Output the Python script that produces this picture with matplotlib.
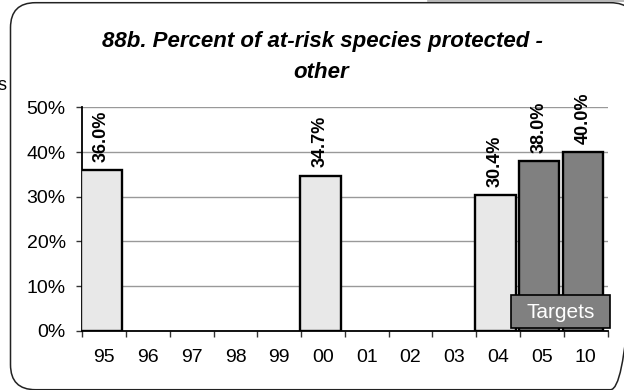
import matplotlib.pyplot as plt
import numpy as np
from matplotlib.patches import FancyBboxPatch, Rectangle

plt.rcParams['font.family'] = ['Liberation Sans', 'DejaVu Sans']

# category axis (fiscal years)
years = ['95', '96', '97', '98', '99', '00', '01', '02', '03', '04', '05', '10']

# actual results
actual_years = ['95', '00', '04']
actual_values = [36.0, 34.7, 30.4]

# targets
target_years = ['05', '10']
target_values = [38.0, 40.0]

title_lines = ['88b. Percent of at-risk species protected -', 'other']

fig = plt.figure(figsize=(6.24, 3.9), dpi=100)

# rounded frame around the chart, drawn in pixel space
bg = fig.add_axes([0, 0, 1, 1])
bg.set_xlim(0, 624)
bg.set_ylim(390, 0)
bg.axis('off')
bg.add_patch(FancyBboxPatch((10.5, 2.7), 625, 387, boxstyle='round,pad=0,rounding_size=25',
                            fc='none', ec='#222222', lw=1.1))
bg.plot([428, 624], [0.5, 0.5], color='#aaaaaa', lw=1.2)
fig.text(-0.004, 0.78, 's', fontsize=13, ha='left', va='center')

ax = fig.add_axes([0.1319, 0.152, 0.8417, 0.5728])

offset = -0.06
width = 0.92
x_act = np.array([years.index(y) for y in actual_years]) + offset
x_tgt = np.array([years.index(y) for y in target_years]) + offset
vals_act = np.array(actual_values) / 100
vals_tgt = np.array(target_values) / 100

ax.bar(x_act, vals_act, width=width, color='#e8e8e8', edgecolor='black', linewidth=1.7, zorder=3)
ax.bar(x_tgt, vals_tgt, width=width, color='#808080', edgecolor='black', linewidth=1.7, zorder=3)

for x, v in zip(list(x_act) + list(x_tgt), list(vals_act) + list(vals_tgt)):
    ax.annotate(f'{v*100:.1f}%', (x, v), xytext=(0, 6), textcoords='offset points',
                rotation=90, ha='center', va='bottom', fontsize=13, fontweight='bold', zorder=4)

ax.set_xlim(-0.5, len(years) - 0.5)
ax.set_ylim(0, 0.5)
ax.set_yticks(np.arange(0, 0.51, 0.1))
ax.set_yticklabels([f'{int(round(t*100))}%' for t in np.arange(0, 0.51, 0.1)])
ax.yaxis.grid(True, color='#999999', lw=1.0, zorder=0)

# ticks between categories, labels centred
ax.set_xticks(np.arange(-0.5, len(years)))
ax.set_xticklabels([])
ax.set_xticks(np.arange(len(years)), minor=True)
ax.set_xticklabels(years, minor=True)
ax.tick_params(axis='x', which='minor', length=0, pad=13.5, labelsize=14)
ax.tick_params(axis='x', which='major', length=4, width=1, color='#333333')
ax.tick_params(axis='y', length=4, width=1, pad=8, labelsize=14, color='#333333')

for s in ['top', 'right']:
    ax.spines[s].set_visible(False)
for s in ['left', 'bottom']:
    ax.spines[s].set_linewidth(1.3)

# targets legend box
ax.add_patch(Rectangle((9.29, 0.006), 2.26, 0.074, fc='#808080', ec='black', lw=1.2,
                       zorder=5, clip_on=False))
ax.text(10.42, 0.0284, 'Targets', color='white', fontsize=15, ha='center', va='baseline', zorder=6)

fig.text(0.517, 1 - 46.7 / 390, title_lines[0], ha='center', va='baseline', fontsize=16,
         fontweight='bold', fontstyle='italic')
fig.text(0.515, 1 - 78.0 / 390, title_lines[1], ha='center', va='baseline', fontsize=16,
         fontweight='bold', fontstyle='italic')

fig.savefig('out.png', dpi=100)
